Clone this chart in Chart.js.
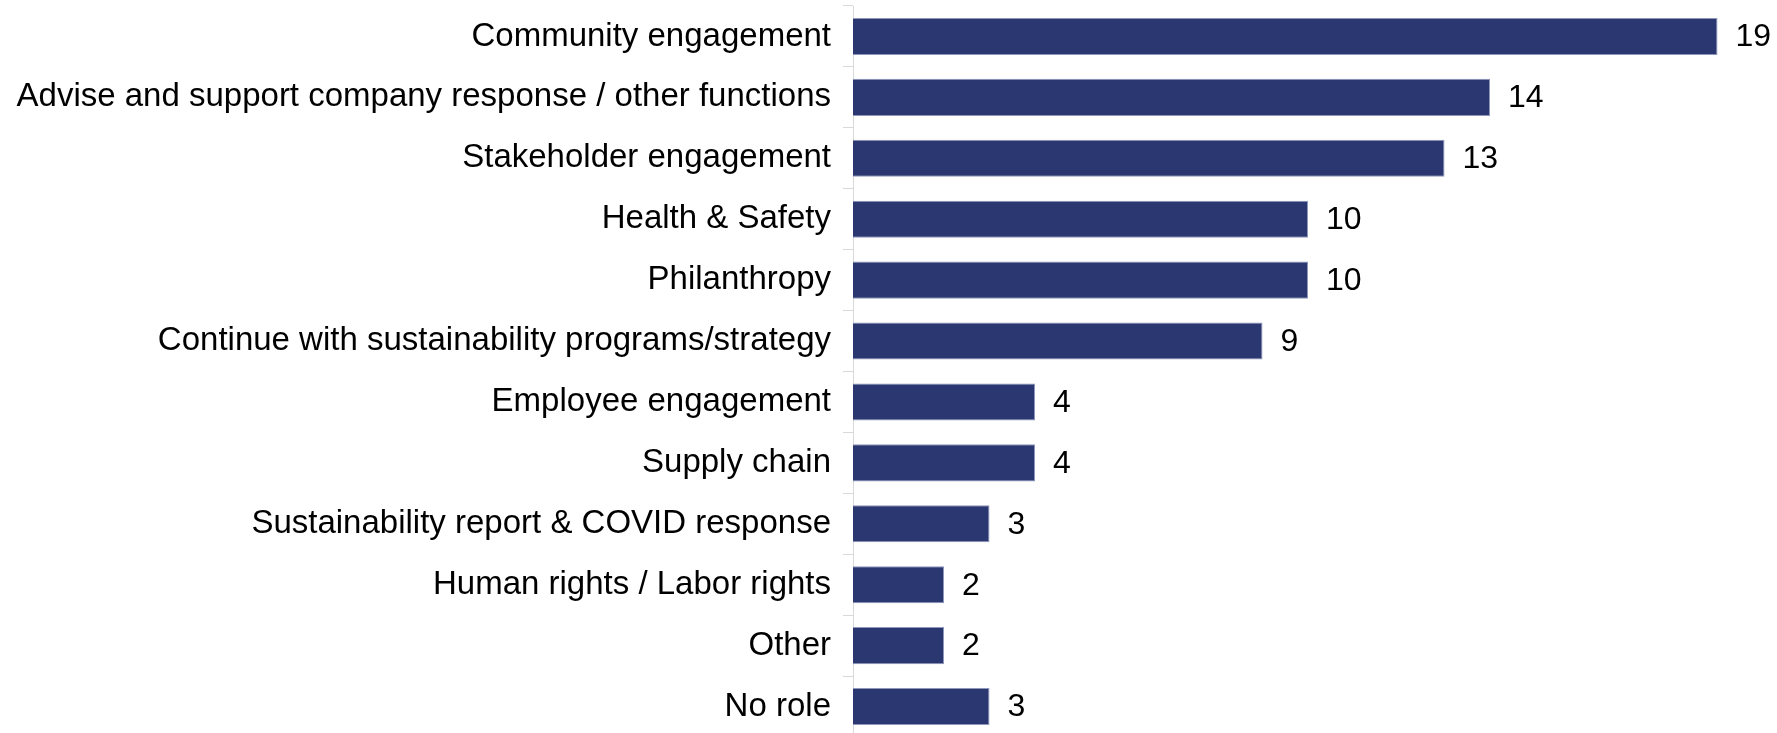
<!DOCTYPE html>
<html>
<head>
<meta charset="utf-8">
<script src="https://cdn.jsdelivr.net/npm/chart.js@4.4.1/dist/chart.umd.min.js"></script>
<style>
  html, body { margin: 0; padding: 0; background: #fff; overflow: hidden; }
  #wrap { width: 1777px; height: 738px; position: relative; }
</style>
</head>
<body>
<div id="wrap"><canvas id="chart"></canvas></div>
<script>
// Role of the sustainability function
const categories = [
  'Community engagement',
  'Advise and support company response / other functions',
  'Stakeholder engagement',
  'Health & Safety',
  'Philanthropy',
  'Continue with sustainability programs/strategy',
  'Employee engagement',
  'Supply chain',
  'Sustainability report & COVID response',
  'Human rights / Labor rights',
  'Other',
  'No role'
];
const counts = [19, 14, 13, 10, 10, 9, 4, 4, 3, 2, 2, 3];

const FONT = "'Liberation Sans', Arial, sans-serif";

// writes the count just past the end of each bar
const valueLabels = {
  id: 'valueLabels',
  afterDatasetsDraw(chart) {
    const ctx = chart.ctx;
    const meta = chart.getDatasetMeta(0);
    ctx.save();
    ctx.font = '32px ' + FONT;
    ctx.fillStyle = '#000';
    ctx.textAlign = 'left';
    ctx.textBaseline = 'middle';
    meta.data.forEach((bar, i) => {
      ctx.fillText(String(counts[i]), bar.x + 18, bar.y + 1);
    });
    ctx.restore();
  }
};

new Chart(document.getElementById('chart'), {
  type: 'bar',
  data: {
    labels: categories,
    datasets: [{
      data: counts,
      backgroundColor: '#2b3770',
      borderColor: '#8e97bb',
      borderWidth: 1,
      categoryPercentage: 1,
      barPercentage: 0.61
    }]
  },
  options: {
    indexAxis: 'y',
    responsive: true,
    maintainAspectRatio: false,
    animation: false,
    layout: { padding: { top: 6, right: 14, bottom: 1, left: 0 } },
    plugins: {
      legend: { display: false },
      tooltip: { enabled: false }
    },
    scales: {
      x: {
        display: false,
        min: 0,
        max: 20
      },
      y: {
        // fixed label column; no extra room above/below for label height
        afterFit(scale) {
          scale.width = 853;
          scale.paddingTop = 0;
          scale.paddingBottom = 0;
        },
        border: { display: true, color: '#d9d9d9', width: 1 },
        grid: {
          drawOnChartArea: false,
          drawTicks: true,
          tickLength: 10,
          color: '#d9d9d9'
        },
        ticks: {
          padding: 12,
          color: '#000',
          font: { family: FONT, size: 33 }
        }
      }
    }
  },
  plugins: [valueLabels]
});
</script>
</body>
</html>
